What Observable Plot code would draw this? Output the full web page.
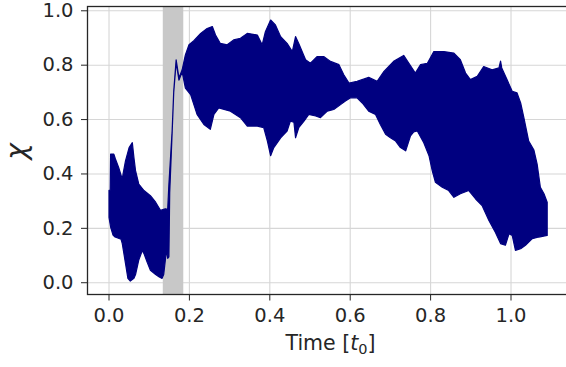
<!DOCTYPE html>
<html>
<head>
<meta charset="utf-8">
<script src="https://cdn.jsdelivr.net/npm/d3@7"></script>
<script src="https://cdn.jsdelivr.net/npm/@observablehq/plot@0.6"></script>
<style>
  html, body { margin: 0; padding: 0; background: white; }
  svg { display: block; }
</style>
</head>
<body>
<div id="chart"></div>
<script>
// Upper envelope of the oscillating χ(t) trace
const tUpper = [0.000, 0.003, 0.004, 0.012, 0.016, 0.024, 0.033, 0.035, 0.041, 0.050, 0.058, 0.062, 0.066, 0.074, 0.087, 0.103, 0.116, 0.128, 0.140, 0.146, 0.149, 0.157, 0.161, 0.167, 0.174, 0.182, 0.190, 0.199, 0.211, 0.228, 0.244, 0.257, 0.265, 0.277, 0.294, 0.310, 0.327, 0.344, 0.369, 0.381, 0.389, 0.402, 0.414, 0.427, 0.443, 0.456, 0.464, 0.472, 0.489, 0.501, 0.518, 0.534, 0.551, 0.572, 0.584, 0.597, 0.617, 0.646, 0.667, 0.684, 0.708, 0.733, 0.746, 0.762, 0.775, 0.792, 0.808, 0.833, 0.858, 0.874, 0.887, 0.899, 0.916, 0.932, 0.953, 0.970, 0.974, 0.977, 0.990, 1.003, 1.015, 1.024, 1.032, 1.044, 1.057, 1.065, 1.073, 1.082, 1.090];
const chiUpper = [0.34, 0.34, 0.473, 0.473, 0.455, 0.424, 0.381, 0.40, 0.448, 0.497, 0.515, 0.46, 0.412, 0.363, 0.339, 0.32, 0.296, 0.266, 0.272, 0.27, 0.363, 0.558, 0.704, 0.82, 0.753, 0.783, 0.838, 0.875, 0.89, 0.917, 0.935, 0.942, 0.911, 0.88, 0.875, 0.893, 0.899, 0.917, 0.911, 0.875, 0.923, 0.966, 0.948, 0.905, 0.88, 0.85, 0.905, 0.88, 0.82, 0.807, 0.832, 0.832, 0.814, 0.802, 0.765, 0.734, 0.741, 0.755, 0.741, 0.777, 0.814, 0.836, 0.807, 0.771, 0.802, 0.807, 0.85, 0.85, 0.844, 0.82, 0.771, 0.747, 0.759, 0.795, 0.783, 0.79, 0.815, 0.79, 0.747, 0.704, 0.698, 0.661, 0.607, 0.521, 0.488, 0.436, 0.351, 0.327, 0.296];

// Lower envelope of the trace
const tLower = [0.000, 0.004, 0.010, 0.015, 0.030, 0.033, 0.041, 0.047, 0.053, 0.062, 0.066, 0.074, 0.083, 0.087, 0.095, 0.103, 0.116, 0.124, 0.132, 0.136, 0.143, 0.146, 0.149, 0.151, 0.157, 0.161, 0.167, 0.174, 0.182, 0.190, 0.203, 0.219, 0.236, 0.252, 0.261, 0.273, 0.302, 0.327, 0.344, 0.369, 0.385, 0.394, 0.402, 0.410, 0.427, 0.443, 0.451, 0.460, 0.464, 0.472, 0.485, 0.497, 0.514, 0.526, 0.543, 0.559, 0.576, 0.588, 0.601, 0.617, 0.630, 0.646, 0.663, 0.675, 0.688, 0.700, 0.713, 0.725, 0.738, 0.750, 0.758, 0.767, 0.783, 0.796, 0.804, 0.812, 0.829, 0.845, 0.858, 0.874, 0.895, 0.912, 0.928, 0.945, 0.961, 0.974, 0.986, 0.995, 1.003, 1.011, 1.024, 1.036, 1.053, 1.069, 1.090];
const chiLower = [0.24, 0.205, 0.175, 0.168, 0.16, 0.144, 0.071, 0.016, 0.006, 0.016, 0.03, 0.083, 0.119, 0.107, 0.075, 0.046, 0.03, 0.022, 0.016, 0.03, 0.12, 0.09, 0.095, 0.33, 0.55, 0.70, 0.81, 0.745, 0.775, 0.716, 0.692, 0.619, 0.582, 0.564, 0.619, 0.643, 0.631, 0.607, 0.576, 0.576, 0.57, 0.521, 0.467, 0.497, 0.533, 0.558, 0.594, 0.59, 0.533, 0.57, 0.594, 0.619, 0.613, 0.607, 0.631, 0.637, 0.655, 0.668, 0.68, 0.68, 0.661, 0.631, 0.619, 0.582, 0.546, 0.533, 0.521, 0.497, 0.485, 0.54, 0.555, 0.558, 0.515, 0.467, 0.412, 0.369, 0.351, 0.339, 0.314, 0.327, 0.339, 0.308, 0.284, 0.229, 0.186, 0.144, 0.138, 0.18, 0.174, 0.119, 0.125, 0.138, 0.162, 0.168, 0.174];

// Shaded time window
const bandStart = [0.135];
const bandEnd = [0.186];

// Tick values
const xTicks = [0.0, 0.2, 0.4, 0.6, 0.8, 1.0];
const yTicks = [0.0, 0.2, 0.4, 0.6, 0.8, 1.0];

const polygon = tUpper.map((t, i) => ({t, chi: chiUpper[i]}))
  .concat(tLower.map((t, i) => ({t, chi: chiLower[i]})).reverse());
const band = bandStart.map((s, i) => ({start: s, end: bandEnd[i]}));

const navy = "#000080";
const fmt = d3.format(".1f");

const chart = Plot.plot({
  width: 566,
  height: 367,
  marginLeft: 87,
  marginRight: -3,
  marginTop: 6,
  marginBottom: 73,
  style: {fontFamily: "DejaVu Sans", fontSize: "19.5px", color: "#262626", background: "white"},
  x: {domain: [-0.0535, 1.1455], ticks: xTicks, tickFormat: fmt, tickSize: 6.5, tickPadding: 7, label: null},
  y: {domain: [-0.0433, 1.0158], ticks: yTicks, tickFormat: fmt, tickSize: 6, tickPadding: 8, label: null},
  marks: [
    Plot.ruleX(xTicks, {stroke: "#d6d6d6", strokeWidth: 1.1}),
    Plot.ruleY(yTicks, {stroke: "#d6d6d6", strokeWidth: 1.1}),
    Plot.rect(band, {x1: "start", x2: "end", fill: "#c8c8c8"}),
    Plot.line(polygon, {x: "t", y: "chi", fill: navy, stroke: navy, strokeWidth: 1.2, curve: "linear-closed"}),
    Plot.frame({stroke: "#262626", strokeWidth: 1.3})
  ]
});
document.getElementById("chart").appendChild(chart);

const svg = d3.select(chart);
// y label χ
svg.append("text")
  .attr("transform", "translate(25.5,151.5) rotate(-90)")
  .attr("text-anchor", "middle")
  .attr("font-family", "DejaVu Sans")
  .attr("font-style", "italic")
  .attr("font-size", 28)
  .attr("fill", "#262626")
  .text("χ");
// x label Time [t0]
const xl = svg.append("text")
  .attr("x", 330.5)
  .attr("y", 349.5)
  .attr("text-anchor", "middle")
  .attr("font-family", "DejaVu Sans")
  .attr("font-size", 20.5)
  .attr("fill", "#262626");
xl.append("tspan").text("Time [");
xl.append("tspan").attr("font-style", "italic").text("t");
xl.append("tspan").attr("font-size", 14.5).attr("dy", 4).text("0");
xl.append("tspan").attr("dy", -4).text("]");
</script>
</body>
</html>
